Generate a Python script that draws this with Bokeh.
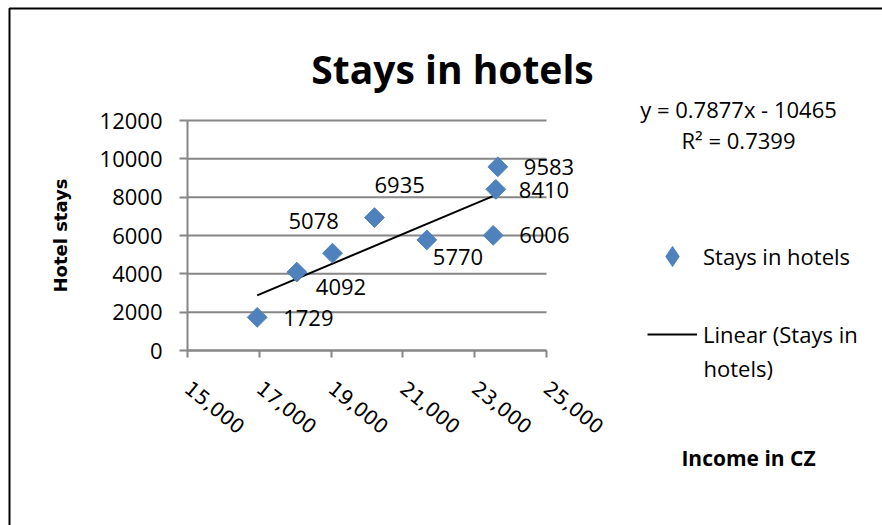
from math import pi
from bokeh.plotting import figure
from bokeh.models import (ColumnDataSource, Range1d, FixedTicker, Label, LabelSet,
                          Legend, LegendItem, BoxAnnotation)
from bokeh.core.properties import value
from bokeh.embed import file_html
from bokeh.resources import INLINE

# ---- data ----
income = [16941, 18045, 19039, 20209, 21666, 23515, 23588, 23644]
hotel_stays = [1729, 4092, 5078, 6935, 5770, 6006, 8410, 9583]
value_labels = [str(v) for v in hotel_stays]

trend_slope = 0.7877
trend_intercept = -10465
r_squared = 0.7399

x_ticks = [15000, 17000, 19000, 21000, 23000, 25000]
x_tick_labels = ["15,000", "17,000", "19,000", "21,000", "23,000", "25,000"]
y_ticks = [0, 2000, 4000, 6000, 8000, 10000, 12000]
y_tick_labels = ["0", "2000", "4000", "6000", "8000", "10000", "12000"]

# label placement offsets (pixels, y up)
label_dx = [26, 19, -44, 0, 6, 26, 23, 26]
label_dy = [-1, -15, 32, 33, -17, 0, -1, 0]

# ---- layout constants (canvas pixels) ----
W, H = 882, 525
FL, FR, FT, FB = 187, 546, 120, 350  # plot-area edges inside the canvas

x_per_px = (x_ticks[-1] - x_ticks[0]) / (FR - FL)
y_per_px = (y_ticks[-1] - y_ticks[0]) / (FB - FT)
x_range = Range1d(x_ticks[0] - FL * x_per_px, x_ticks[0] + (W - FL) * x_per_px)
y_range = Range1d(y_ticks[0] - (H - FB) * y_per_px, y_ticks[0] + FB * y_per_px)


def sx(px):
    return px


def sy(py):
    return H - py


FONT = "Open Sans"
GRID = "#868686"
BLUE = "#4F81BD"

p = figure(width=W, height=H, output_backend="svg", toolbar_location=None,
           x_range=x_range, y_range=y_range,
           min_border=0, min_border_left=0, min_border_right=0,
           min_border_top=0, min_border_bottom=0)
p.outline_line_color = None
p.background_fill_color = "white"
p.border_fill_color = "white"
p.xgrid.visible = False
p.ygrid.visible = False

# axes, pinned to the plot-area corner
p.xaxis.fixed_location = y_ticks[0]
p.yaxis.fixed_location = x_ticks[0]
p.xaxis.bounds = (x_ticks[0], x_ticks[-1])
p.yaxis.bounds = (y_ticks[0], y_ticks[-1])
p.xaxis.ticker = FixedTicker(ticks=x_ticks)
p.xaxis.major_label_overrides = dict(zip(x_ticks, x_tick_labels))
p.yaxis.ticker = FixedTicker(ticks=y_ticks)
p.yaxis.major_label_overrides = dict(zip(y_ticks, y_tick_labels))
for ax in (p.xaxis[0], p.yaxis[0]):
    ax.axis_line_color = GRID
    ax.axis_line_width = 2
    ax.major_tick_line_color = GRID
    ax.major_tick_line_width = 2
    ax.major_tick_in = 0
    ax.minor_tick_line_color = None
p.yaxis.major_tick_out = 8
p.yaxis.major_label_text_font = FONT
p.yaxis.major_label_text_font_size = "22px"
p.yaxis.major_label_text_color = "black"
p.yaxis.major_label_standoff = 17
p.yaxis.axis_label = "Hotel stays"
p.yaxis.axis_label_text_font = "DejaVu Sans"
p.yaxis.axis_label_text_font_style = "bold"
p.yaxis.axis_label_text_font_size = "18px"
p.yaxis.axis_label_text_color = "black"
p.yaxis.axis_label_standoff = 26

p.xaxis.major_tick_out = 7
p.xaxis.major_label_orientation = -0.68
p.xaxis.major_label_text_font = "DejaVu Sans"
p.xaxis.major_label_text_font_size = "20px"
p.xaxis.major_label_text_color = "black"
p.xaxis.major_label_standoff = 28

# horizontal gridlines across the plot area
p.segment(x0=[x_ticks[0]] * len(y_ticks), x1=[x_ticks[-1]] * len(y_ticks),
          y0=y_ticks, y1=y_ticks, line_color=GRID, line_width=2, level="underlay")

# chart border
p.add_layout(BoxAnnotation(left=sx(9), right=sx(W + 50), top=sy(8), bottom=sy(H + 50),
                           left_units="screen", right_units="screen",
                           top_units="screen", bottom_units="screen",
                           fill_alpha=0, line_color="black", line_alpha=1,
                           line_width=2, level="underlay"))

src = ColumnDataSource(dict(x=income, y=hotel_stays, lab=value_labels,
                            dx=label_dx, dy=label_dy))

# trend line
x_fit = [min(income), max(income)]
y_fit = [trend_slope * v + trend_intercept for v in x_fit]
trend = p.line(x_fit, y_fit, line_color="black", line_width=2)

pts = p.scatter("x", "y", source=src, marker="square", angle=pi / 4, size=14,
                fill_color=BLUE, line_color=BLUE)
# legend swatch (not drawn on the chart itself)
swatch = p.scatter(x=[float("nan")], y=[float("nan")], marker="diamond",
                   fill_color=BLUE, line_color=BLUE)

p.add_layout(LabelSet(x="x", y="y", text="lab", source=src,
                      x_offset="dx", y_offset="dy",
                      text_font=value(FONT), text_font_size="22px",
                      text_align="left", text_baseline="middle",
                      text_color="black"))

# legend
legend = Legend(items=[LegendItem(label="Stays in hotels", renderers=[swatch]),
                       LegendItem(label="Linear (Stays in", renderers=[trend])],
                location=(sx(647), sy(359)), orientation="vertical",
                glyph_width=50, glyph_height=50, spacing=28, padding=0, margin=0,
                label_standoff=6, label_text_font=FONT, label_text_font_size="22px",
                label_text_color="black", border_line_color=None,
                background_fill_alpha=0)
p.add_layout(legend)


def add_text(text, x, y, size, align="left", baseline="middle", bold=False, font=FONT):
    p.add_layout(Label(x=x, y=y, x_units="screen", y_units="screen", text=text,
                       text_font=font, text_font_size=size, text_align=align,
                       text_baseline=baseline, text_color="black",
                       text_font_style="bold" if bold else "normal"))


add_text("hotels)", sx(703), sy(367), "22px")
add_text("Stays in hotels", sx(452), sy(68), "39px", align="center",
         baseline="alphabetic", bold=True)
add_text(f"y = {trend_slope}x - {abs(trend_intercept)}", sx(738), sy(108), "22px",
         align="center")
add_text(f"R\u00b2 = {r_squared}", sx(738), sy(139), "22px", align="center")
add_text("Income in CZ", sx(748), sy(457), "21px", align="center", bold=True)

open("out.html", "w").write(file_html(p, INLINE))
